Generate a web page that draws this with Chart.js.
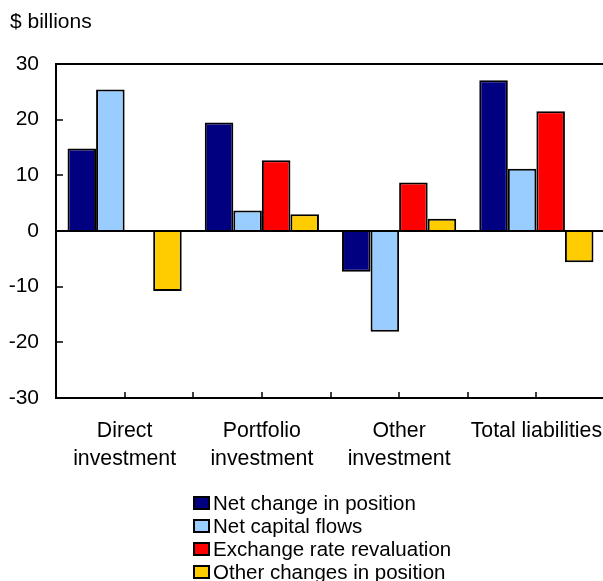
<!DOCTYPE html>
<html>
<head>
<meta charset="utf-8">
<script src="https://cdn.jsdelivr.net/npm/chart.js@4.4.1/dist/chart.umd.min.js"></script>
<style>
  html, body { margin: 0; padding: 0; background: #fff; }
  #wrap { position: relative; width: 603px; height: 581px; overflow: hidden; }
  #chart { position: absolute; left: 0; top: 0; }
  #units { position: absolute; left: 10px; top: 9px; font: 21px 'Liberation Sans', Arial, sans-serif; color: #000; }
  #legend { position: absolute; left: 193px; top: 491px; font: 20.5px 'Liberation Sans', Arial, sans-serif; color: #000; }
  .row { height: 23px; line-height: 23px; display: flex; align-items: center; white-space: nowrap; }
  .box { width: 13px; height: 10px; border: 2px solid #000; margin-right: 3px; }
</style>
</head>
<body>
<div id="wrap">
  <canvas id="chart" width="625" height="581" style="width:625px;height:581px"></canvas>
  <div id="units">$ billions</div>
  <div id="legend"></div>
</div>
<script>
// Categories and series
const categories = [['Direct', 'investment'], ['Portfolio', 'investment'], ['Other', 'investment'], 'Total liabilities'];
const seriesNames = ['Net change in position', 'Net capital flows', 'Exchange rate revaluation', 'Other changes in position'];
const seriesColors = ['#000080', '#99CCFF', '#FF0000', '#FFCC00'];
const netChange = [14.8, 19.5, -7.3, 27.1];
const capitalFlows = [25.4, 3.7, -18.1, 11.2];
const exchangeRate = [0, 12.7, 8.7, 21.5];
const otherChanges = [-10.8, 3.0, 2.2, -5.6];
const yTicks = [-30, -20, -10, 0, 10, 20, 30];

const FONT = "'Liberation Sans', Arial, sans-serif";

// Axis box, inward tick marks and the zero line
const framePlugin = {
    id: 'frame',
    afterDatasetsDraw(chart) {
        const { ctx, chartArea: a, scales } = chart;
        const y = scales.y;
        ctx.save();
        ctx.strokeStyle = '#000';
        ctx.lineWidth = 2;
        ctx.strokeRect(a.left, a.top, a.right - a.left, a.bottom - a.top);

        ctx.beginPath();
        const zy = Math.round(y.getPixelForValue(0));
        ctx.moveTo(a.left, zy);
        ctx.lineTo(a.right, zy);
        ctx.stroke();

        ctx.lineWidth = 1.5;
        ctx.beginPath();
        yTicks.forEach(v => {
            const py = Math.round(y.getPixelForValue(v));
            ctx.moveTo(a.left, py);
            ctx.lineTo(a.left + 7, py);
        });
        const half = (a.right - a.left) / categories.length / 2;
        for (let k = 1; k < categories.length * 2; k++) {
            const px = Math.round(a.left + k * half);
            ctx.moveTo(px, a.bottom);
            ctx.lineTo(px, a.bottom - 6);
        }
        ctx.stroke();
        ctx.restore();
    }
};

const seriesData = [netChange, capitalFlows, exchangeRate, otherChanges];

const chart = new Chart(document.getElementById('chart'), {
    type: 'bar',
    data: {
        labels: categories,
        datasets: seriesNames.map((name, i) => ({
            label: name,
            data: seriesData[i],
            backgroundColor: seriesColors[i],
            borderColor: '#000',
            borderWidth: 2,
            barPercentage: 1.0,
            categoryPercentage: 0.832
        }))
    },
    options: {
        responsive: false,
        animation: false,
        layout: { padding: { top: 64, right: 20, left: 0, bottom: 0 } },
        plugins: {
            legend: { display: false },
            tooltip: { enabled: false }
        },
        scales: {
            x: {
                grid: { display: false, drawTicks: false },
                border: { display: false },
                ticks: {
                    color: '#000',
                    padding: 19,
                    maxRotation: 0,
                    font: { family: FONT, size: 21.3, lineHeight: 1.32 }
                },
                afterFit(scale) { scale.height = 183; }
            },
            y: {
                min: -30,
                max: 30,
                grid: { display: false, drawTicks: false },
                border: { display: false },
                ticks: {
                    stepSize: 10,
                    color: '#000',
                    padding: 17,
                    font: { family: FONT, size: 21 }
                },
                afterFit(scale) { scale.width = 56; }
            }
        }
    },
    plugins: [framePlugin]
});

// Stacked legend under the plot
const legendEl = document.getElementById('legend');
seriesNames.forEach((name, i) => {
    const row = document.createElement('div');
    row.className = 'row';
    const box = document.createElement('span');
    box.className = 'box';
    box.style.background = seriesColors[i];
    const txt = document.createElement('span');
    txt.textContent = name;
    row.appendChild(box);
    row.appendChild(txt);
    legendEl.appendChild(row);
});
</script>
</body>
</html>
